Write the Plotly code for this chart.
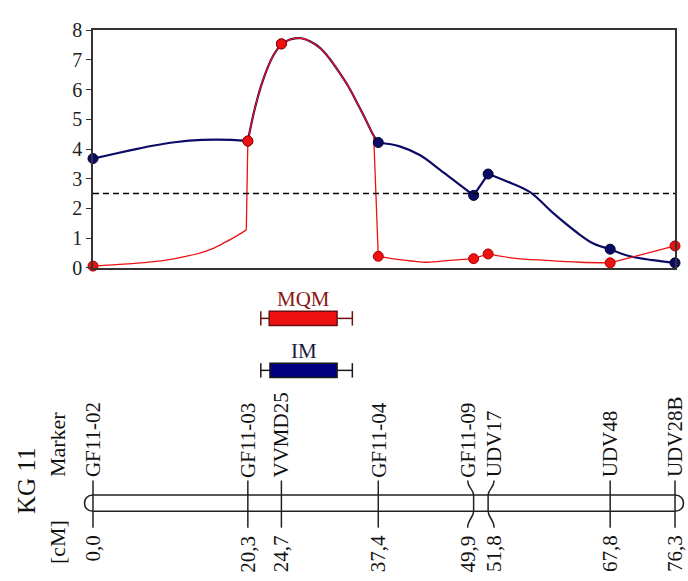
import plotly.graph_objects as go

# ---- data -------------------------------------------------------------
marker_names = ["GF11-02", "GF11-03", "VVMD25", "GF11-04",
                "GF11-09", "UDV17", "UDV48", "UDV28B"]
marker_cM = [0.0, 20.3, 24.7, 37.4, 49.9, 51.8, 67.8, 76.3]

# LOD values at the markers
im_at_markers = [3.68, 4.27, 7.54, 4.22, 2.44, 3.16, 0.63, 0.17]
mqm_at_markers = [0.06, 4.27, 7.54, 0.39, 0.31, 0.47, 0.17, 0.74]

# LOD profiles along the linkage group (interval mapping / MQM)
im_cM = [0, 3, 5.5, 8, 10.7, 14.3, 18.2, 20.3, 21.2, 22.3, 23.6, 24.7,
         26, 27.3, 28.5, 29.8, 31, 32.4, 33.5, 34.6, 35.5, 36.3, 36.8,
         37.4, 40.2, 42.9, 45.5, 47.7, 49.9, 51.8, 54.2, 57.3, 60.3,
         63.4, 65.6, 67.8, 70.4, 73.4, 76.3]
im_lod = [3.68, 3.85, 3.99, 4.12, 4.23, 4.31, 4.31, 4.27, 5.35, 6.33, 7.13,
          7.54, 7.70, 7.73, 7.62, 7.40, 7.05, 6.54, 6.10, 5.57, 5.12, 4.70,
          4.45, 4.22, 4.09, 3.79, 3.30, 2.87, 2.44, 3.16, 2.92, 2.55, 1.85,
          1.20, 0.82, 0.63, 0.39, 0.26, 0.17]

mqm_cM = [0, 5.5, 7.7, 10, 12, 14, 15.6, 17.3, 18.8, 20.1, 20.3, 21.2, 22.3,
          23.6, 24.7, 26, 27.3, 28.5, 29.8, 31, 32.4, 33.5, 34.6, 35.5, 36.3,
          36.8, 37.4, 40.2, 43.7, 46.8, 49.9, 51.8, 55.1, 59.5, 63.8, 67.8,
          76.3]
mqm_lod = [0.06, 0.15, 0.20, 0.28, 0.38, 0.50, 0.64, 0.86, 1.07, 1.28, 4.27,
           5.35, 6.33, 7.13, 7.54, 7.70, 7.73, 7.62, 7.40, 7.05, 6.54, 6.10,
           5.57, 5.12, 4.70, 4.45, 0.39, 0.28, 0.19, 0.25, 0.31, 0.47, 0.33,
           0.25, 0.19, 0.17, 0.74]
# positions where the MQM profile jumps (cofactor boundaries)
mqm_jumps = [20.1, 36.8]

lod_threshold = 2.5

# QTL support intervals: (LOD-1 box, LOD-2 whiskers) in cM
mqm_box = [23.1, 32.0]
mqm_whisker = [22.0, 34.0]
im_box = [23.2, 32.0]
im_whisker = [22.0, 34.0]

group_name = "KG 11"

# ---- layout constants ---------------------------------------------------
W, H = 688, 581
ML, MR = 93, 13
PLOT_TOP, PLOT_BOTTOM = 20, 267
PLOT_W = W - ML - MR
x_lo, x_hi = marker_cM[0], marker_cM[-1]

RED = "#ee1111"
NAVY = "#0c0c66"
FONT = "Liberation Serif"


def xp(cm):
    """cM -> paper x"""
    return (cm - x_lo) / (x_hi - x_lo)


def xp_px(px):
    """page pixel column -> paper x"""
    return (px - ML) / PLOT_W


def yp(py):
    """page pixel row -> paper y"""
    return 1 - py / H


def split_at(xs, ys, breaks):
    """Split a profile into pieces at the given positions (each piece is
    smoothed on its own, so the profile may bend sharply at a break)."""
    out_x, out_y = [], []
    for i, (x, y) in enumerate(zip(xs, ys)):
        out_x.append(x)
        out_y.append(y)
        if x in breaks and 0 < i < len(xs) - 1:
            out_x += [None, x]
            out_y += [None, y]
    return out_x, out_y


fig = go.Figure()

# LOD profiles
ix, iy = split_at(im_cM, im_lod, marker_cM)
mx, my = split_at(mqm_cM, mqm_lod, marker_cM + mqm_jumps)
fig.add_trace(go.Scatter(x=ix, y=iy, mode="lines", connectgaps=False,
                         line=dict(color=NAVY, width=2.2, shape="spline",
                                   smoothing=1.0),
                         cliponaxis=False, hoverinfo="skip"))
fig.add_trace(go.Scatter(x=mx, y=my, mode="lines", connectgaps=False,
                         line=dict(color=RED, width=1.3, shape="spline",
                                   smoothing=1.0),
                         cliponaxis=False, hoverinfo="skip"))
# marker points
fig.add_trace(go.Scatter(x=marker_cM, y=im_at_markers, mode="markers",
                         marker=dict(color=NAVY, size=10,
                                     line=dict(color="#000033", width=1)),
                         cliponaxis=False, hoverinfo="skip"))
fig.add_trace(go.Scatter(x=marker_cM, y=mqm_at_markers, mode="markers",
                         marker=dict(color=RED, size=10,
                                     line=dict(color="#b00000", width=1)),
                         cliponaxis=False, hoverinfo="skip"))

shapes = []
annotations = []

# significance threshold
shapes.append(dict(type="line", xref="x", yref="y",
                   x0=x_lo, x1=x_hi, y0=lod_threshold, y1=lod_threshold,
                   line=dict(color="black", width=1.5, dash="6px,4px")))


def interval(box, whisker, yc, fill, edge, label, label_color):
    h = 7.5
    seg = dict(type="line", xref="paper", yref="paper",
               line=dict(color=edge, width=1.5))
    shapes.append(dict(seg, x0=xp(whisker[0]), x1=xp(box[0]),
                       y0=yp(yc), y1=yp(yc)))
    shapes.append(dict(seg, x0=xp(box[1]), x1=xp(whisker[1]),
                       y0=yp(yc), y1=yp(yc)))
    for xw in whisker:
        shapes.append(dict(seg, x0=xp(xw), x1=xp(xw),
                           y0=yp(yc - h), y1=yp(yc + h)))
    shapes.append(dict(type="rect", xref="paper", yref="paper",
                       x0=xp(box[0]), x1=xp(box[1]),
                       y0=yp(yc - h), y1=yp(yc + h), fillcolor=fill,
                       line=dict(color=edge, width=1.5)))
    annotations.append(dict(x=xp((box[0] + box[1]) / 2), y=yp(yc - 20),
                            xref="paper", yref="paper", text=label,
                            showarrow=False,
                            font=dict(family=FONT, size=21, color=label_color),
                            xanchor="center", yanchor="middle"))


interval(mqm_box, mqm_whisker, 319.5, RED, "#6a1010", "MQM", "#8b1515")
interval(im_box, im_whisker, 373.5, "#000080", "#1a1a1a", "IM", "#1a1a40")

# chromosome outline with rounded ends
yt, yb = yp(503), yp(520)
k = 4 / 3 * ((520 - 503) / 2) / PLOT_W
a, b = xp(x_lo), xp(x_hi)
shapes.append(dict(
    type="path", xref="paper", yref="paper",
    path=(f"M {a},{yt} L {b},{yt} C {b + k},{yt} {b + k},{yb} {b},{yb} "
          f"L {a},{yb} C {a - k},{yb} {a - k},{yt} {a},{yt} Z"),
    fillcolor="white", line=dict(color="#222", width=1.6)))

# marker ticks and labels; close pairs are fanned apart
label_shift_px = [0, 0, 0, 0, -6, 6, 0, 0]
tick_top, tick_bot = 488, 537
for name, pos, sh in zip(marker_names, marker_cM, label_shift_px):
    m = xp(pos)
    lx = xp(pos) + sh / PLOT_W
    if sh == 0:
        shapes.append(dict(type="line", xref="paper", yref="paper",
                           x0=m, x1=m, y0=yp(tick_top), y1=yp(tick_bot),
                           line=dict(color="#222", width=1.5)))
    else:
        shapes.append(dict(
            type="path", xref="paper", yref="paper",
            path=(f"M {lx},{yp(tick_top)} C {lx},{yp(tick_top + 8)} "
                  f"{m},{yp(503 - 6)} {m},{yp(503)} L {m},{yp(520)} "
                  f"C {m},{yp(520 + 6)} {lx},{yp(tick_bot - 8)} {lx},{yp(tick_bot)}"),
            line=dict(color="#222", width=1.5)))
    annotations.append(dict(x=lx, y=yp(tick_top - 1), xref="paper",
                            yref="paper", text=name, textangle=-90,
                            showarrow=False, xanchor="center",
                            yanchor="bottom",
                            font=dict(family=FONT, size=21, color="#111")))
    annotations.append(dict(x=lx, y=yp(tick_bot + 6), xref="paper",
                            yref="paper",
                            text=f"{pos:.1f}".replace(".", ","), textangle=-90,
                            showarrow=False, xanchor="center", yanchor="top",
                            font=dict(family=FONT, size=21, color="#111")))

# side titles
annotations.append(dict(x=xp_px(26), y=yp(488.5), xref="paper", yref="paper",
                        text=group_name, textangle=-90, showarrow=False,
                        xanchor="center", yanchor="middle",
                        font=dict(family=FONT, size=25, color="#111")))
annotations.append(dict(x=xp_px(57), y=yp(487), xref="paper", yref="paper",
                        text="Marker", textangle=-90, showarrow=False,
                        xanchor="center", yanchor="bottom",
                        font=dict(family=FONT, size=22, color="#111")))
annotations.append(dict(x=xp_px(57), y=yp(527), xref="paper", yref="paper",
                        text="[cM]", textangle=-90, showarrow=False,
                        xanchor="center", yanchor="top",
                        font=dict(family=FONT, size=22, color="#111")))

fig.update_layout(
    width=W, height=H,
    margin=dict(l=ML, r=MR, t=0, b=0),
    paper_bgcolor="white", plot_bgcolor="white",
    showlegend=False,
    shapes=shapes, annotations=annotations,
    xaxis=dict(range=[x_lo, x_hi], domain=[0, 1],
               showgrid=False, zeroline=False, showticklabels=False,
               ticks="", showline=True, linecolor="#333", linewidth=1.5,
               mirror=True, fixedrange=True),
    yaxis=dict(range=[0, 8], dtick=1,
               domain=[yp(PLOT_BOTTOM), yp(PLOT_TOP)],
               showgrid=False, zeroline=False, ticks="outside", ticklen=5,
               tickwidth=1.3, tickcolor="#333", showline=True,
               linecolor="#333", linewidth=1.5, mirror=True,
               tickfont=dict(family=FONT, size=20, color="#222"),
               fixedrange=True),
)

fig.write_html("out.html")
